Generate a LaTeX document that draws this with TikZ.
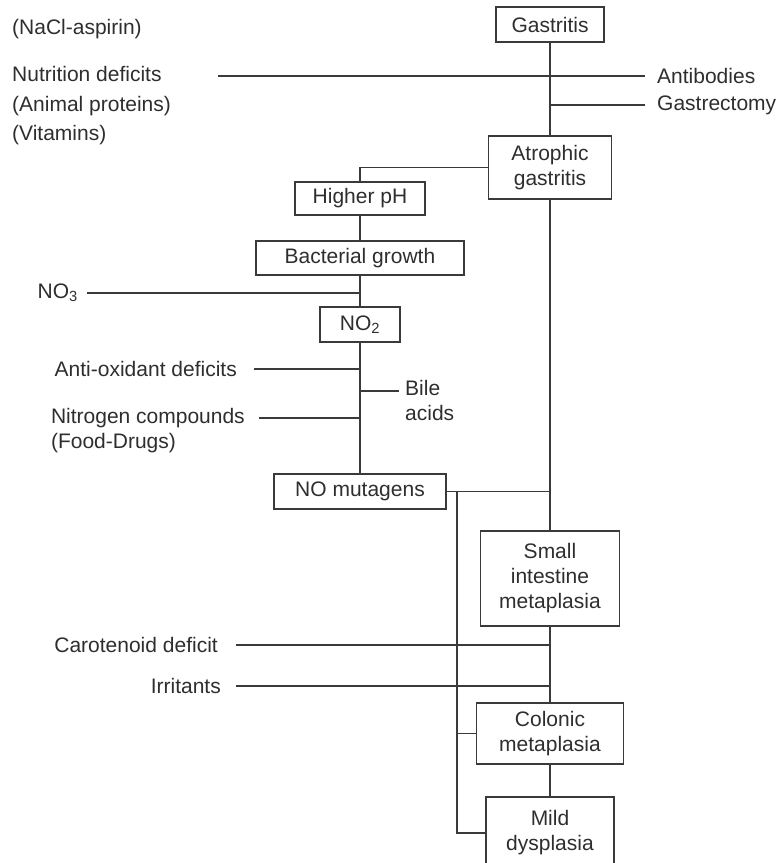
\documentclass[tikz,border=0pt]{standalone}
\usepackage{fontspec}
\setmainfont{Liberation Sans}
\usetikzlibrary{positioning}
\definecolor{cLine}{HTML}{3A3A3A}
\definecolor{cText}{HTML}{2E2E2E}
\newcommand{\diagfont}{\fontsize{21}{25}\selectfont}
\tikzset{
  stage-box/.style={draw=cLine,line width=1.3pt,align=center,inner sep=0pt,
    font=\diagfont,text=cText},
  side-label/.style={align=left,inner sep=0pt,font=\diagfont,text=cText},
  link/.style={draw=cLine,line width=1.3pt},
}

\begin{document}
\begin{tikzpicture}[x=1pt,y=-1pt]
  \useasboundingbox (0,0) rectangle (777,863);
  % main chain
  \node[stage-box,minimum width=108pt,minimum height=35pt] (gastritis) at (550,24.5) {Gastritis};
  \node[stage-box,minimum width=123pt,minimum height=63pt] (atrophic) at (550,167.5) {Atrophic\\gastritis};
  \node[stage-box,minimum width=139pt,minimum height=95pt] (small) at (550,578.5) {Small\\intestine\\metaplasia};
  \node[stage-box,minimum width=147pt,minimum height=61pt] (colonic) at (550,733.5) {Colonic\\metaplasia};
  \node[stage-box,minimum width=128pt,minimum height=72pt] (mild) at (550,833) {Mild\\dysplasia};
  % left chain
  \node[stage-box,minimum width=130pt,minimum height=33pt] (higherph) at (360,198.5) {Higher pH};
  \node[stage-box,minimum width=208pt,minimum height=34pt] (bacterial) at (360,258) {Bacterial growth};
  \node[stage-box,minimum width=80pt,minimum height=35pt] (no2) at (360,324.5) {NO\textsubscript{2}};
  \node[stage-box,minimum width=172pt,minimum height=35pt] (nomut) at (360,491.5) {NO mutagens};

  % line ends
  \coordinate (nutr-in) at (218,76);
  \coordinate (nutr-out) at (645,76);
  \coordinate (gastrect-out) at (645,105);
  \coordinate (no3-in) at (87,293);
  \coordinate (antiox-in) at (254,369);
  \coordinate (bile-out) at (399,391);
  \coordinate (nitro-in) at (259,418);
  \coordinate (carot-in) at (236,645);
  \coordinate (irrit-in) at (236,686);
  \coordinate (nomut-tap) at (457,491.5);

  % factors
  \node[side-label,anchor=west] (nacl) at (12,29) {(NaCl-aspirin)};
  \node[side-label,anchor=west,font=\fontsize{21}{29.5}\selectfont] (nutrition) at (12,106) {Nutrition deficits\\(Animal proteins)\\(Vitamins)};
  \node[side-label,right=12pt of nutr-out] (antibodies) {Antibodies};
  \node[side-label,right=12pt of gastrect-out] (gastrectomy) {Gastrectomy};
  \node[side-label,left=9pt of no3-in] (no3) {NO\textsubscript{3}};
  \node[side-label,left=17pt of antiox-in] (antiox) {Anti-oxidant deficits};
  \node[side-label,right=6pt of bile-out,yshift=-9.5pt] (bile) {Bile\\acids};
  \node[side-label,left=14pt of nitro-in,yshift=-12.5pt] (nitro) {Nitrogen compounds\\(Food-Drugs)};
  \node[side-label,left=18pt of carot-in] (carot) {Carotenoid deficit};
  \node[side-label,left=15pt of irrit-in] (irrit) {Irritants};

  % connectors
  \draw[link] (gastritis) -- (atrophic);
  \draw[link] (nutr-in) -- (nutr-out);
  \draw[link] (gastritis.south |- gastrect-out) -- (gastrect-out);
  \draw[link] (atrophic.west) -| (higherph.north);
  \draw[link] (higherph) -- (bacterial);
  \draw[link] (bacterial) -- (no2);
  \draw[link] (no3-in) -- (no3-in -| no2.north);
  \draw[link] (no2) -- (nomut);
  \draw[link] (antiox-in) -- (antiox-in -| no2.south);
  \draw[link] (bile-out -| no2.south) -- (bile-out);
  \draw[link] (nitro-in) -- (nitro-in -| no2.south);
  \draw[link] (atrophic) -- (small);
  \draw[link] (nomut.east) -- (nomut.east -| small.north);
  \draw[link] (nomut-tap) |- (mild.west);
  \draw[link] (nomut-tap |- colonic.west) -- (colonic.west);
  \draw[link] (small) -- (colonic);
  \draw[link] (colonic) -- (mild);
  \draw[link] (carot-in) -- (carot-in -| small.south);
  \draw[link] (irrit-in) -- (irrit-in -| small.south);
\end{tikzpicture}
\end{document}
